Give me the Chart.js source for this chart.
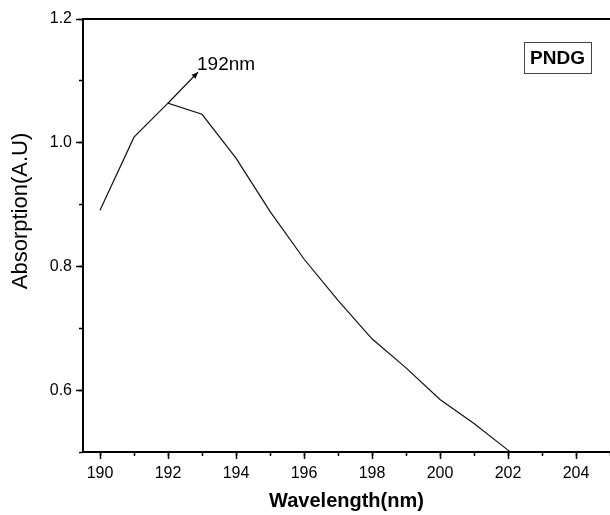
<!DOCTYPE html>
<html>
<head>
<meta charset="utf-8">
<title>PNDG absorption</title>
<script src="https://cdn.jsdelivr.net/npm/chart.js@4.4.1/dist/chart.umd.min.js"></script>
<style>
  html, body { margin: 0; padding: 0; background: #fff; overflow: hidden; }
  canvas { display: block; }
</style>
</head>
<body>
<canvas id="absChart" width="610" height="515"></canvas>
<script>
// Absorption spectrum of PNDG, 190-203 nm
const wavelengths = [190, 191, 192, 193, 194, 195, 196, 197, 198, 199, 200, 201, 202, 203];
const absorption = [0.891, 1.009, 1.064, 1.046, 0.975, 0.889, 0.812, 0.745, 0.683, 0.636, 0.585, 0.546, 0.503, 0.460];

const sampleName = 'PNDG';
const peakWavelength = 192;
const peakLabel = '192nm';

const xRange = [189.5, 205];
const yRange = [0.5, 1.2];

const FONT = "'Liberation Sans', Arial, sans-serif";
Chart.defaults.font.family = FONT;
Chart.defaults.color = '#000';

// arrow + text pointing at the absorption maximum
const peakArrow = {
  id: 'peakArrow',
  afterDatasetsDraw(chart) {
    const { ctx, scales: { x, y } } = chart;
    const i = wavelengths.indexOf(peakWavelength);
    const x0 = x.getPixelForValue(peakWavelength);
    const y0 = y.getPixelForValue(absorption[i]);
    const x1 = x0 + 30, y1 = y0 - 31;
    ctx.save();
    ctx.strokeStyle = '#000';
    ctx.fillStyle = '#000';
    ctx.lineWidth = 1.3;
    ctx.beginPath();
    ctx.moveTo(x0, y0);
    ctx.lineTo(x1, y1);
    ctx.stroke();
    const a = Math.atan2(y1 - y0, x1 - x0);
    ctx.beginPath();
    ctx.moveTo(x1, y1);
    ctx.lineTo(x1 - 7 * Math.cos(a - 0.4), y1 - 7 * Math.sin(a - 0.4));
    ctx.lineTo(x1 - 7 * Math.cos(a + 0.4), y1 - 7 * Math.sin(a + 0.4));
    ctx.closePath();
    ctx.fill();
    ctx.font = '19px ' + FONT;
    ctx.textAlign = 'left';
    ctx.textBaseline = 'alphabetic';
    ctx.fillText(peakLabel, x1 - 1, y1 - 2);
    ctx.restore();
  }
};

// boxed sample name in the upper right corner
const sampleTag = {
  id: 'sampleTag',
  afterDraw(chart) {
    const { ctx, chartArea } = chart;
    const w = 67, h = 31;
    const left = chartArea.right - 19 - w;
    const top = chartArea.top + 23;
    ctx.save();
    ctx.fillStyle = '#fff';
    ctx.fillRect(left, top, w, h);
    ctx.strokeStyle = '#444';
    ctx.lineWidth = 1;
    ctx.strokeRect(left + 0.5, top + 0.5, w, h);
    ctx.font = 'bold 19px ' + FONT;
    ctx.fillStyle = '#000';
    ctx.textAlign = 'center';
    ctx.textBaseline = 'middle';
    ctx.fillText(chart.data.datasets[0].label, left + w / 2, top + h / 2 + 1);
    ctx.restore();
  }
};

// y axis title, sits a bit above the middle of the axis
const yTitle = {
  id: 'yTitle',
  afterDraw(chart) {
    const { ctx, chartArea } = chart;
    ctx.save();
    ctx.translate(21, chartArea.top + 192);
    ctx.rotate(-Math.PI / 2);
    ctx.font = '22px ' + FONT;
    ctx.fillStyle = '#000';
    ctx.textAlign = 'center';
    ctx.textBaseline = 'middle';
    ctx.fillText('Absorption(A.U)', 0, 0);
    ctx.restore();
  }
};

const tickGrid = len => ({ drawOnChartArea: false, tickLength: len, tickWidth: 1.5, tickColor: '#000' });

new Chart(document.getElementById('absChart'), {
  type: 'line',
  data: {
    datasets: [{
      label: sampleName,
      data: wavelengths.map((w, i) => ({ x: w, y: absorption[i] })),
      borderColor: '#111',
      borderWidth: 1.2,
      pointRadius: 0,
      tension: 0,
      xAxisID: 'x',
      yAxisID: 'y'
    }]
  },
  options: {
    responsive: false,
    animation: false,
    layout: { autoPadding: false, padding: { top: 19, left: 0, right: 0, bottom: 0 } },
    plugins: { legend: { display: false }, tooltip: { enabled: false } },
    scales: {
      x: {
        type: 'linear', position: 'bottom', weight: 1,
        min: xRange[0], max: xRange[1],
        afterFit: s => { s.height = 63; },
        ticks: { stepSize: 2, includeBounds: false, font: { size: 16 }, padding: 5, maxRotation: 0, autoSkip: false },
        grid: tickGrid(7),
        border: { color: '#000', width: 2 },
        title: { display: true, text: 'Wavelength(nm)', font: { size: 20, weight: 'bold' }, padding: { top: 0, bottom: 2 } }
      },
      xMinor: {
        type: 'linear', position: 'bottom', weight: 0,
        min: xRange[0], max: xRange[1],
        afterFit: s => { s.height = 0; },
        ticks: { display: false, stepSize: 1, includeBounds: false },
        grid: tickGrid(4),
        border: { display: false }
      },
      xTop: {
        type: 'linear', position: 'top',
        min: xRange[0], max: xRange[1],
        afterFit: s => { s.height = 0; },
        ticks: { display: false, stepSize: 1 },
        grid: { drawOnChartArea: false, drawTicks: false },
        border: { color: '#000', width: 2 }
      },
      y: {
        type: 'linear', position: 'left', weight: 1,
        min: yRange[0], max: yRange[1],
        afterFit: s => { s.width = 83; },
        ticks: { stepSize: 0.2, includeBounds: false, font: { size: 16 }, padding: 4, callback: v => v.toFixed(1) },
        grid: tickGrid(7),
        border: { color: '#000', width: 2 }
      },
      yMinor: {
        type: 'linear', position: 'left', weight: 0,
        min: yRange[0], max: yRange[1],
        afterFit: s => { s.width = 0; },
        ticks: { display: false, stepSize: 0.1 },
        grid: tickGrid(4),
        border: { display: false }
      }
    }
  },
  plugins: [peakArrow, sampleTag, yTitle]
});
</script>
</body>
</html>
